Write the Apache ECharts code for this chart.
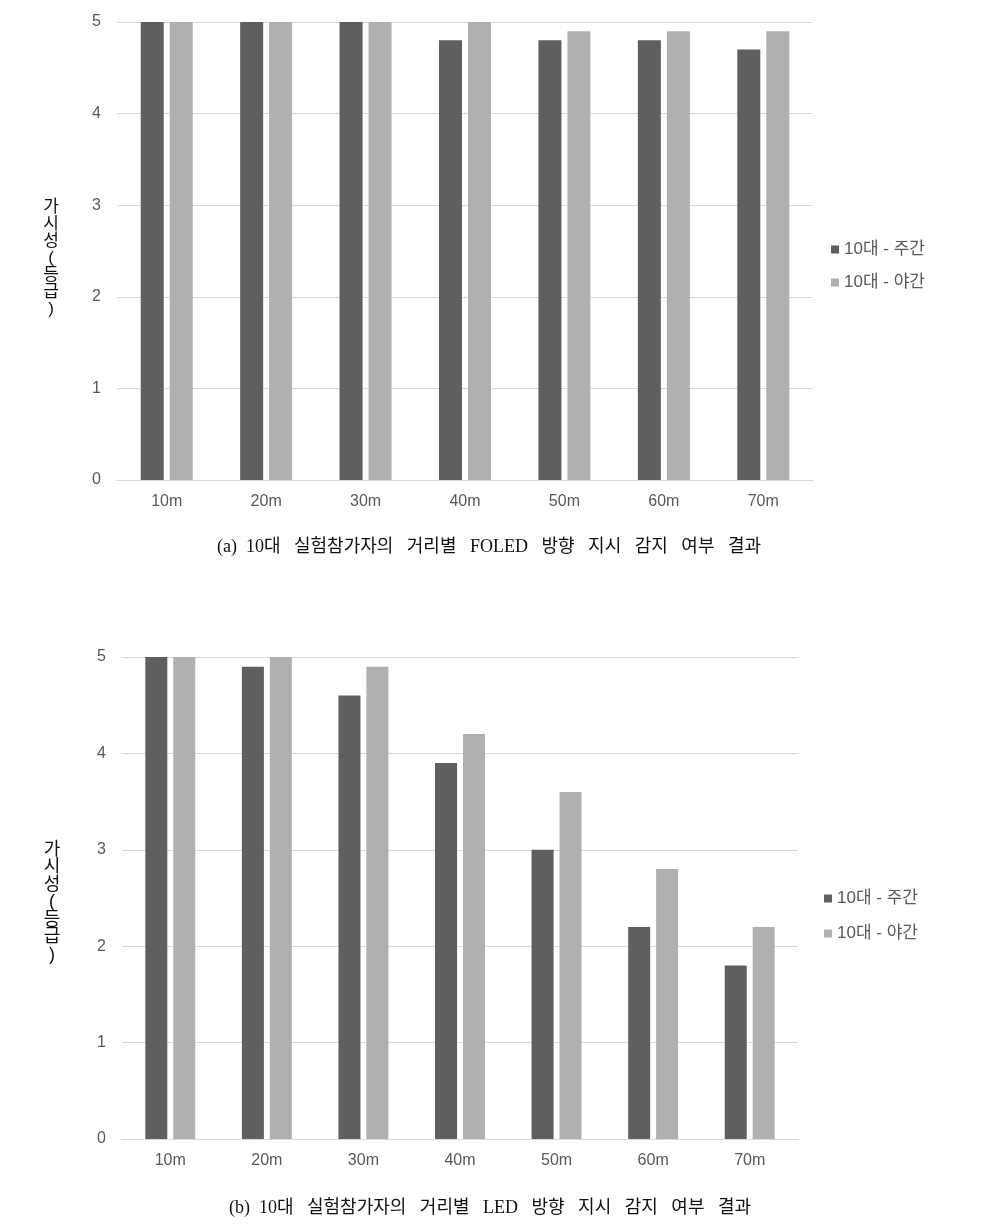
<!DOCTYPE html>
<html>
<head>
<meta charset="utf-8">
<script src="https://cdn.jsdelivr.net/npm/echarts@6/dist/echarts.min.js"></script>
<style>
html,body{margin:0;padding:0;background:#fff;}
#chart{width:994px;height:1231px;}
</style>
</head>
<body>
<div id="chart"></div>
<script>
const categories = ['10m','20m','30m','40m','50m','60m','70m'];
const seriesNames = ['10대 - 주간','10대 - 야간'];
const foledDay = [5, 5, 5, 4.8, 4.8, 4.8, 4.7];
const foledNight = [5, 5, 5, 5, 4.9, 4.9, 4.9];
const ledDay = [5, 4.9, 4.6, 3.9, 3.0, 2.2, 1.8];
const ledNight = [5, 5, 4.9, 4.2, 3.6, 2.8, 2.2];
const yTicks = [0, 1, 2, 3, 4, 5];
const yAxisName = '가시성(등급)';
const captionA = '(a)  10대   실험참가자의   거리별   FOLED   방향   지시   감지   여부   결과';
const captionB = '(b)  10대   실험참가자의   거리별   LED   방향   지시   감지   여부   결과';

const DARK = '#5f5f5f';
const LIGHT = '#b0b0b0';
const GRID = '#d9d9d9';
const TXT = '#595959';
const SANS = "'Liberation Sans','Noto Sans CJK KR',sans-serif";
const SERIF = "'Liberation Serif','Noto Sans CJK KR',serif";

const chart = echarts.init(document.getElementById('chart'), null, {renderer:'canvas'});

function xAx(gi, fs){
  return {
    type:'category', gridIndex:gi, data:categories,
    axisLine:{show:true, lineStyle:{color:GRID, width:1}},
    axisTick:{show:false},
    axisLabel:{color:TXT, fontSize:fs, fontFamily:SANS, margin:14}
  };
}
function yAx(gi, fs){
  return {
    type:'value', gridIndex:gi, min:yTicks[0], max:yTicks[yTicks.length-1], interval:1,
    axisLine:{show:false}, axisTick:{show:false},
    splitLine:{lineStyle:{color:GRID, width:1}},
    axisLabel:{color:TXT, fontSize:fs, fontFamily:SANS, margin:16, padding:[3,0,0,0]}
  };
}
const stacked = yAxisName.split('').join('\n');

const option = {
  backgroundColor:'#fff',
  animation:false,
  grid:[
    {left:117, top:22, width:696, height:458},
    {left:122, top:657, width:676, height:482}
  ],
  xAxis:[xAx(0,16), xAx(1,16)],
  yAxis:[yAx(0,16), yAx(1,16)],
  legend:[
    {orient:'vertical', left:826, top:236, itemWidth:8, itemHeight:8, itemGap:16, icon:'rect',
     textStyle:{color:TXT, fontSize:17, fontFamily:SANS},
     data:[{name:seriesNames[0]},{name:seriesNames[1]}]},
    {orient:'vertical', left:819, top:885, itemWidth:8, itemHeight:8, itemGap:18, icon:'rect',
     textStyle:{color:TXT, fontSize:17, fontFamily:SANS},
     formatter: n => n.trim(),
     data:[{name:seriesNames[0]+' '},{name:seriesNames[1]+' '}]}
  ],
  series:[
    {name:seriesNames[0], type:'bar', xAxisIndex:0, yAxisIndex:0, data:foledDay, barWidth:23, barGap:'26%', itemStyle:{color:DARK}},
    {name:seriesNames[1], type:'bar', xAxisIndex:0, yAxisIndex:0, data:foledNight, barWidth:23, barGap:'26%', itemStyle:{color:LIGHT}},
    {name:seriesNames[0]+' ', type:'bar', xAxisIndex:1, yAxisIndex:1, data:ledDay, barWidth:22, barGap:'27%', itemStyle:{color:DARK}},
    {name:seriesNames[1]+' ', type:'bar', xAxisIndex:1, yAxisIndex:1, data:ledNight, barWidth:22, barGap:'27%', itemStyle:{color:LIGHT}}
  ],
  graphic:[
    {type:'text', x:51, y:199, style:{text:stacked, fill:'#111', font:"17px "+SANS, lineHeight:17, align:'center'}},
    {type:'text', x:52, y:841, style:{text:stacked, fill:'#111', font:"18px "+SANS, lineHeight:17.5, align:'center'}},
    {type:'text', x:489, y:547, style:{text:captionA, fill:'#111', font:"18px "+SERIF, align:'center', verticalAlign:'middle'}},
    {type:'text', x:490, y:1208, style:{text:captionB, fill:'#111', font:"18px "+SERIF, align:'center', verticalAlign:'middle'}}
  ]
};
chart.setOption(option);
</script>
</body>
</html>
